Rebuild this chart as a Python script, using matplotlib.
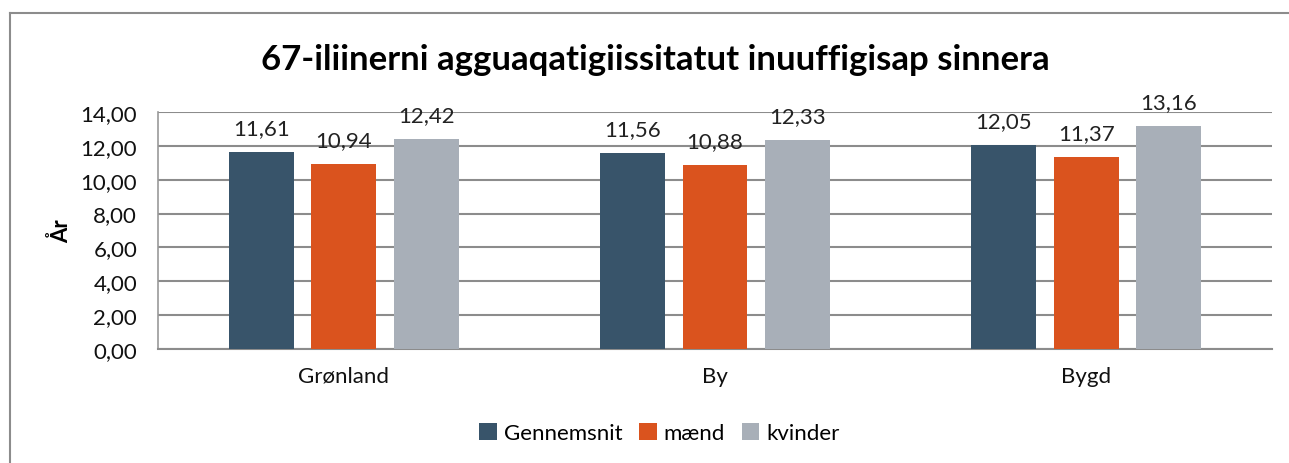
import matplotlib
matplotlib.use("Agg")
import matplotlib.pyplot as plt
from matplotlib.lines import Line2D
import numpy as np

plt.rcParams['font.family'] = ['Lato', 'DejaVu Sans']

categories = ["Grønland", "By", "Bygd"]
series_names = ["Gennemsnit", "mænd", "kvinder"]
gennemsnit = [11.61, 11.56, 12.05]
maend = [10.94, 10.88, 11.37]
kvinder = [12.42, 12.33, 13.16]
yticks = [0, 2, 4, 6, 8, 10, 12, 14]
colors = ["#38546A", "#DA531E", "#A8AFB8"]

W, H = 1289, 464
fig = plt.figure(figsize=(W/100, H/100), dpi=100)
ax = fig.add_axes([158/W, 1-350/H, (1272-158)/W, (350-113)/H])

x = np.arange(len(categories))
bw = 0.175
step = 0.222
for i, (vals, c) in enumerate(zip([gennemsnit, maend, kvinder], colors)):
    pos = x + (i-1)*step
    ax.bar(pos, vals, width=bw, color=c, zorder=3, label=series_names[i])
    for p, v in zip(pos, vals):
        ax.annotate(f"{v:.2f}".replace(".", ","), (p, v), xytext=(0, 10), textcoords="offset points",
                    ha="center", va="bottom", fontsize=16, color="#222222")

ax.set_xlim(-0.5, 2.5)
ax.set_ylim(0, 14)
ax.set_yticks(yticks)
ax.set_yticklabels([f"{v:.2f}".replace(".", ",") for v in yticks], fontsize=16)
ax.set_xticks(x)
ax.set_xticklabels(categories, fontsize=16)
ax.tick_params(axis='both', length=0, colors="#111111")
ax.tick_params(axis='y', pad=15)
ax.tick_params(axis='x', pad=12)
ax.grid(axis='y', color="#8c8c8c", linewidth=1.5, zorder=0)
for s in ["top", "right"]:
    ax.spines[s].set_visible(False)
ax.spines["left"].set_color("#999999")
ax.spines["left"].set_linewidth(1.2)
ax.spines["bottom"].set_color("#8c8c8c")
ax.spines["bottom"].set_linewidth(1.5)
ax.set_ylabel("År", fontsize=16, fontweight="bold", labelpad=6)

fig.text((258+1052)/2/W, 1-60/H, "67-iliinerni agguaqatigiissitatut inuuffigisap sinnera",
         ha="center", va="center", fontsize=25, fontweight="bold")

fig.legend(loc="center", bbox_to_anchor=(659.5/W, 1-434/H), ncol=3, frameon=False,
           fontsize=16, handlelength=0.8, handleheight=0.8, handletextpad=0.3,
           columnspacing=0.75)

# outer border (cropped: only top and left visible)
fig.add_artist(Line2D([10/W, 1], [1-13.5/H, 1-13.5/H], color="#8c8c8c", lw=1.5, transform=fig.transFigure))
fig.add_artist(Line2D([10/W, 10/W], [0, 1-13.5/H], color="#8c8c8c", lw=1.5, transform=fig.transFigure))

fig.savefig("out.png", dpi=100)
